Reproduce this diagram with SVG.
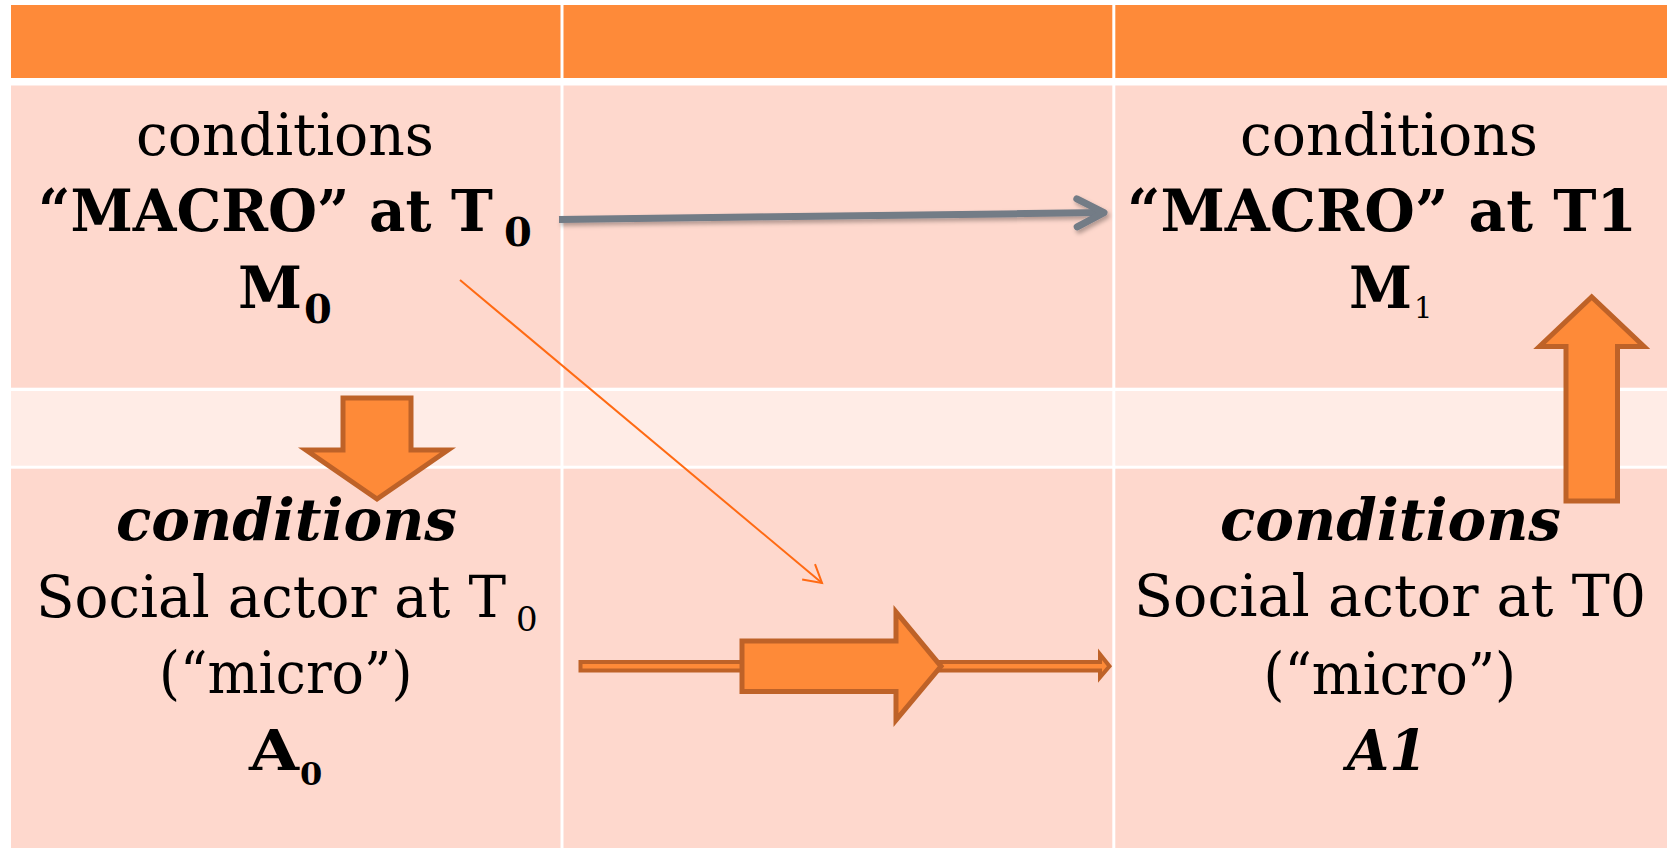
<svg xmlns="http://www.w3.org/2000/svg" width="1667" height="848" viewBox="0 0 1667 848">
  <style>
    .hdr { fill: #FE8A39; }
    .cell { fill: #FED8CD; }
    .band { fill: #FFECE6; }
    text { font-family: "DejaVu Serif", "Liberation Serif", serif; fill: #000; }
    .r { font-weight: normal; font-style: normal; }
    .b { font-weight: bold; font-style: normal; }
    .bi { font-weight: bold; font-style: italic; }
    .block { fill: #FE8A38; stroke: #BE6228; stroke-linejoin: miter; }
  </style>
  <defs>
    <filter id="shadow" filterUnits="userSpaceOnUse" x="540" y="170" width="600" height="90">
      <feDropShadow dx="2" dy="3" stdDeviation="2" flood-color="#000" flood-opacity="0.3"/>
    </filter>
    <marker id="grayHead" markerUnits="userSpaceOnUse" viewBox="-34 -20 40 40" refX="0" refY="0" markerWidth="40" markerHeight="40" orient="auto">
      <path d="M -27 -14 L 0 0 L -27 14" fill="none" stroke="#737B86" stroke-width="7" stroke-linecap="round" stroke-linejoin="round"/>
    </marker>
    <marker id="thinHead" markerUnits="userSpaceOnUse" viewBox="-22 -12 26 24" refX="0" refY="0" markerWidth="26" markerHeight="24" orient="auto">
      <path d="M -17.5 -10 L 0 0 L -17.5 10" fill="none" stroke="#FF6A13" stroke-width="2"/>
    </marker>
  </defs>

  <rect x="0" y="0" width="1667" height="848" fill="#FFFFFF"/>

  <g id="table">
    <rect class="hdr" x="11" y="5" width="549.5" height="73"/>
    <rect class="hdr" x="563.5" y="5" width="548.8" height="73"/>
    <rect class="hdr" x="1115.3" y="5" width="551.7" height="73"/>
    <rect class="cell" x="11" y="85.5" width="549.5" height="302.2"/>
    <rect class="cell" x="563.5" y="85.5" width="548.8" height="302.2"/>
    <rect class="cell" x="1115.3" y="85.5" width="551.7" height="302.2"/>
    <rect class="band" x="11" y="391" width="549.5" height="74.7"/>
    <rect class="band" x="563.5" y="391" width="548.8" height="74.7"/>
    <rect class="band" x="1115.3" y="391" width="551.7" height="74.7"/>
    <rect class="cell" x="11" y="468.7" width="549.5" height="379.3"/>
    <rect class="cell" x="563.5" y="468.7" width="548.8" height="379.3"/>
    <rect class="cell" x="1115.3" y="468.7" width="551.7" height="379.3"/>
  </g>

  <g id="macro-t0">
    <text class="r" x="136" y="155" font-size="58" textLength="298" lengthAdjust="spacingAndGlyphs">conditions</text>
    <text class="b" x="38" y="231" font-size="58" textLength="455" lengthAdjust="spacingAndGlyphs">“MACRO” at T</text>
    <text class="b" x="504" y="246" font-size="40">0</text>
    <text class="b" x="238" y="308" font-size="58" textLength="64" lengthAdjust="spacingAndGlyphs">M</text>
    <text class="b" x="304" y="323" font-size="40">0</text>
  </g>

  <g id="macro-t1">
    <text class="r" x="1240" y="155" font-size="58" textLength="298" lengthAdjust="spacingAndGlyphs">conditions</text>
    <text class="b" x="1127" y="231" font-size="58" textLength="510" lengthAdjust="spacingAndGlyphs">“MACRO” at T1</text>
    <text class="b" x="1349" y="308" font-size="58" textLength="63" lengthAdjust="spacingAndGlyphs">M</text>
    <text class="r" x="1414" y="318" font-size="29">1</text>
  </g>

  <g id="micro-a0">
    <text class="bi" x="116" y="540" font-size="58" textLength="341" lengthAdjust="spacingAndGlyphs">conditions</text>
    <text class="r" x="0" y="0" transform="translate(36,617) scale(1,1.074)" font-size="54" textLength="470" lengthAdjust="spacingAndGlyphs">Social actor at T</text>
    <text class="r" x="516" y="631" font-size="34">0</text>
    <text class="r" x="159" y="693" font-size="58" textLength="253.5" lengthAdjust="spacingAndGlyphs">(“micro”)</text>
    <text class="b" x="249" y="770" font-size="56" textLength="50" lengthAdjust="spacingAndGlyphs">A</text>
    <text class="b" x="300" y="785" font-size="32">0</text>
  </g>

  <g id="micro-a1">
    <text class="bi" x="1220" y="540" font-size="58" textLength="341" lengthAdjust="spacingAndGlyphs">conditions</text>
    <text class="r" x="1134" y="616" font-size="58" textLength="512" lengthAdjust="spacingAndGlyphs">Social actor at T0</text>
    <text class="r" x="1263.5" y="694" font-size="58" textLength="252.5" lengthAdjust="spacingAndGlyphs">(“micro”)</text>
    <text class="bi" x="1347" y="770" font-size="56" textLength="80" lengthAdjust="spacingAndGlyphs">A1</text>
  </g>

  <g id="connectors">
    <path d="M 559 219.5 L 1104 212.6" fill="none" stroke="#737B86" stroke-width="7" marker-end="url(#grayHead)" filter="url(#shadow)"/>
    <path d="M 460 280 L 822 583" fill="none" stroke="#FF6A13" stroke-width="2" marker-end="url(#thinHead)"/>
    <polygon class="block" stroke-width="5" points="343,398 411,398 411,450 448,450 377,499 306,450 343,450"/>
    <polygon class="block" stroke-width="5" points="1566,501 1566,346.5 1539.5,346.5 1591.7,297 1644,346.5 1617.5,346.5 1617.5,501"/>
    <polygon class="block" stroke-width="4" points="580.5,662 1100,662 1100,654.3 1109.5,666.3 1100,677.3 1100,670.6 580.5,670.6"/>
    <polygon class="block" stroke-width="5" points="742,641 896,641 896,612 941,666.3 896,720 896,691.5 742,691.5"/>
  </g>
</svg>
